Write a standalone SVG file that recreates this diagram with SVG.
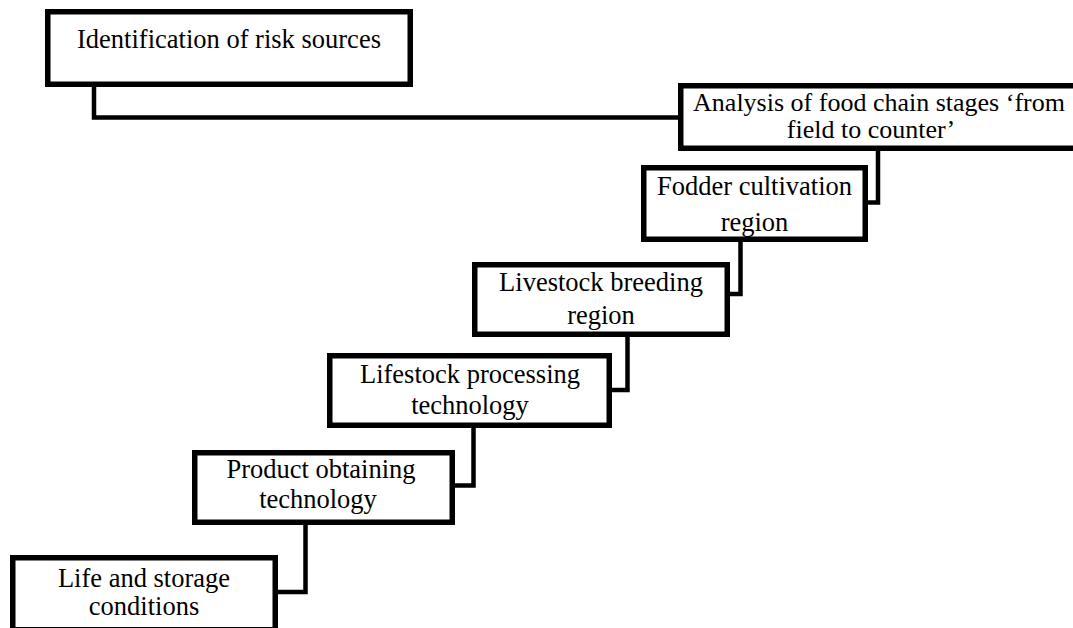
<svg xmlns="http://www.w3.org/2000/svg" width="1073" height="628" viewBox="0 0 1073 628">
  <style>
    .box { fill: #ffffff; stroke: #000000; stroke-width: 5.5; }
    .link { fill: none; stroke: #000000; stroke-width: 4.5; stroke-linejoin: miter; }
    .label { font-family: "Liberation Serif", "Times New Roman", serif; font-size: 26.5px; fill: #000000; text-anchor: middle; }
    .tight { font-size: 26px; }
  </style>
  <rect width="1073" height="628" fill="#ffffff"/>

  <!-- step connectors -->
  <g id="connectors">
    <polyline class="link" points="94,87 94,117.5 680,117.5"/>
    <polyline class="link" points="878,151 878,202.5 866,202.5"/>
    <polyline class="link" points="740.5,242 740.5,294 728,294"/>
    <polyline class="link" points="627.5,337 627.5,390 610,390"/>
    <polyline class="link" points="473.5,428 473.5,485.5 453,485.5"/>
    <polyline class="link" points="305.5,525 305.5,592 276,592"/>
  </g>

  <g id="node-risk-sources">
    <rect class="box" x="47.75" y="11.75" width="362.5" height="72.5"/>
    <text class="label" x="229" y="48">Identification of risk sources</text>
  </g>

  <g id="node-food-chain">
    <rect class="box" x="680.75" y="85.75" width="400" height="62.5"/>
    <text class="label tight" x="879" y="111">Analysis of food chain stages ‘from</text>
    <text class="label tight" x="871" y="138">field to counter’</text>
  </g>

  <g id="node-fodder">
    <rect class="box" x="643.75" y="167.75" width="221.5" height="71.5"/>
    <text class="label" x="754.5" y="195">Fodder cultivation</text>
    <text class="label" x="754.5" y="231">region</text>
  </g>

  <g id="node-breeding">
    <rect class="box" x="474.75" y="264.75" width="252.5" height="69.5"/>
    <text class="label" x="601" y="291">Livestock breeding</text>
    <text class="label" x="601" y="324">region</text>
  </g>

  <g id="node-processing">
    <rect class="box" x="329.75" y="355.75" width="279.5" height="69.5"/>
    <text class="label" x="470" y="383">Lifestock processing</text>
    <text class="label" x="470" y="414">technology</text>
  </g>

  <g id="node-product">
    <rect class="box" x="194.75" y="452.75" width="257.5" height="69.5"/>
    <text class="label" x="321" y="478">Product obtaining</text>
    <text class="label" x="318" y="508">technology</text>
  </g>

  <g id="node-storage">
    <rect class="box" x="12.75" y="557.75" width="262.5" height="72"/>
    <text class="label" x="144" y="587">Life and storage</text>
    <text class="label" x="144" y="615">conditions</text>
  </g>
</svg>
